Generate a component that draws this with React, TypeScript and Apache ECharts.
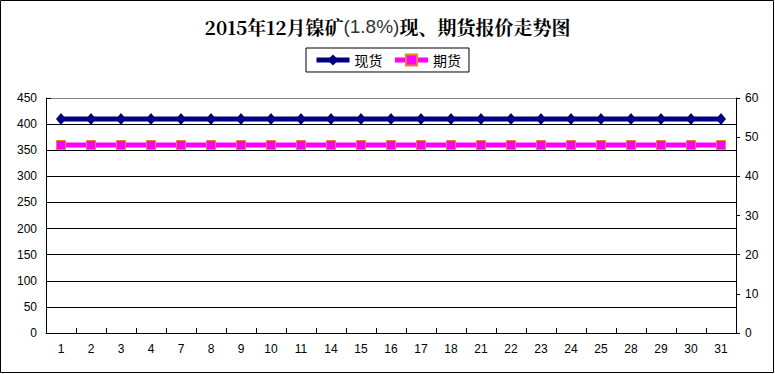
import React, { useEffect, useRef } from "react";
import * as echarts from "echarts";

const categories = ["1", "2", "3", "4", "7", "8", "9", "10", "11", "14", "15", "16", "17", "18", "21", "22", "23", "24", "25", "28", "29", "30", "31"];
const spotValues = [410, 410, 410, 410, 410, 410, 410, 410, 410, 410, 410, 410, 410, 410, 410, 410, 410, 410, 410, 410, 410, 410, 410];
const futuresValues = [48, 48, 48, 48, 48, 48, 48, 48, 48, 48, 48, 48, 48, 48, 48, 48, 48, 48, 48, 48, 48, 48, 48];
const seriesNames = ["现货", "期货"];

export default function App() {
  const ref = useRef<HTMLDivElement>(null);
  useEffect(() => {
    if (!ref.current) return;
    const chart = echarts.init(ref.current, undefined, { renderer: "svg" });
    const axisFont = "'Liberation Sans', Arial, sans-serif";
    const cjk = "'Noto Sans CJK SC', sans-serif";
    chart.setOption({
      animation: false,
      backgroundColor: "#fff",
      title: {
        text: "{a|2015年12月镍矿}{b|(1.8%)}{a|现、期货报价走势图}",
        left: "center",
        top: 12,
        textStyle: {
          rich: {
            a: { fontSize: 19, fontWeight: "bold", fontFamily: "'Noto Serif CJK SC', 'Noto Sans CJK SC', serif", color: "#000" },
            b: { fontSize: 19, fontWeight: "normal", fontFamily: axisFont, color: "#333" },
          },
        },
      },
      legend: {
        top: 48,
        left: "center",
        borderColor: "#000",
        borderWidth: 1,
        borderRadius: 0,
        padding: [5, 8],
        itemGap: 10,
        itemWidth: 33,
        itemHeight: 14,
        lineStyle: { width: 5 },
        textStyle: { fontSize: 14, fontFamily: cjk, color: "#000" },
        data: seriesNames,
      },
      graphic: [
        {
          type: "rect",
          shape: { x: 0.5, y: 0.5, width: 773, height: 372 },
          style: { fill: "none", stroke: "#000", lineWidth: 1 },
          silent: true,
        },
      ],
      grid: { left: 46, right: 39, top: 98, bottom: 41 },
      xAxis: {
        type: "category",
        data: categories,
        boundaryGap: true,
        axisLine: { show: true, lineStyle: { color: "#000", width: 1 } },
        axisTick: { show: true, inside: true, length: 5, interval: 0, lineStyle: { color: "#000" } },
        axisLabel: { interval: 0, fontSize: 12, fontFamily: axisFont, color: "#000", margin: 10 },
        splitLine: { show: false },
      },
      yAxis: [
        {
          type: "value",
          min: 0,
          max: 450,
          interval: 50,
          axisLine: { show: true, lineStyle: { color: "#000", width: 1 } },
          axisTick: { show: true, inside: true, length: 5, lineStyle: { color: "#000" } },
          axisLabel: { fontSize: 12, fontFamily: axisFont, color: "#000", margin: 9 },
          splitLine: {
            show: true,
            lineStyle: {
              color: ["#000", "#000", "#000", "#000", "#000", "#000", "#000", "#000", "#000", "#808080"],
              width: 1,
            },
          },
        },
        {
          type: "value",
          min: 0,
          max: 60,
          interval: 10,
          position: "right",
          axisLine: { show: true, lineStyle: { color: "#000", width: 1 } },
          axisTick: { show: true, inside: false, length: 4, lineStyle: { color: "#000" } },
          axisLabel: { fontSize: 12, fontFamily: axisFont, color: "#000", margin: 9 },
          splitLine: { show: false },
        },
      ],
      series: [
        {
          name: seriesNames[0],
          type: "line",
          yAxisIndex: 0,
          data: spotValues,
          symbol: "diamond",
          symbolSize: [10, 12],
          itemStyle: { color: "#000080" },
          lineStyle: { color: "#000080", width: 5 },
        },
        {
          name: seriesNames[1],
          type: "line",
          yAxisIndex: 1,
          data: futuresValues,
          symbol: "rect",
          symbolSize: 9,
          itemStyle: { color: "#FF00FF", borderColor: "#E08A2C", borderWidth: 1 },
          lineStyle: { color: "#FF00FF", width: 5 },
        },
      ],
    });
    return () => chart.dispose();
  }, []);
  return <div ref={ref} style={{ position: "absolute", left: 0, top: 0, width: 775, height: 374 }} />;
}
